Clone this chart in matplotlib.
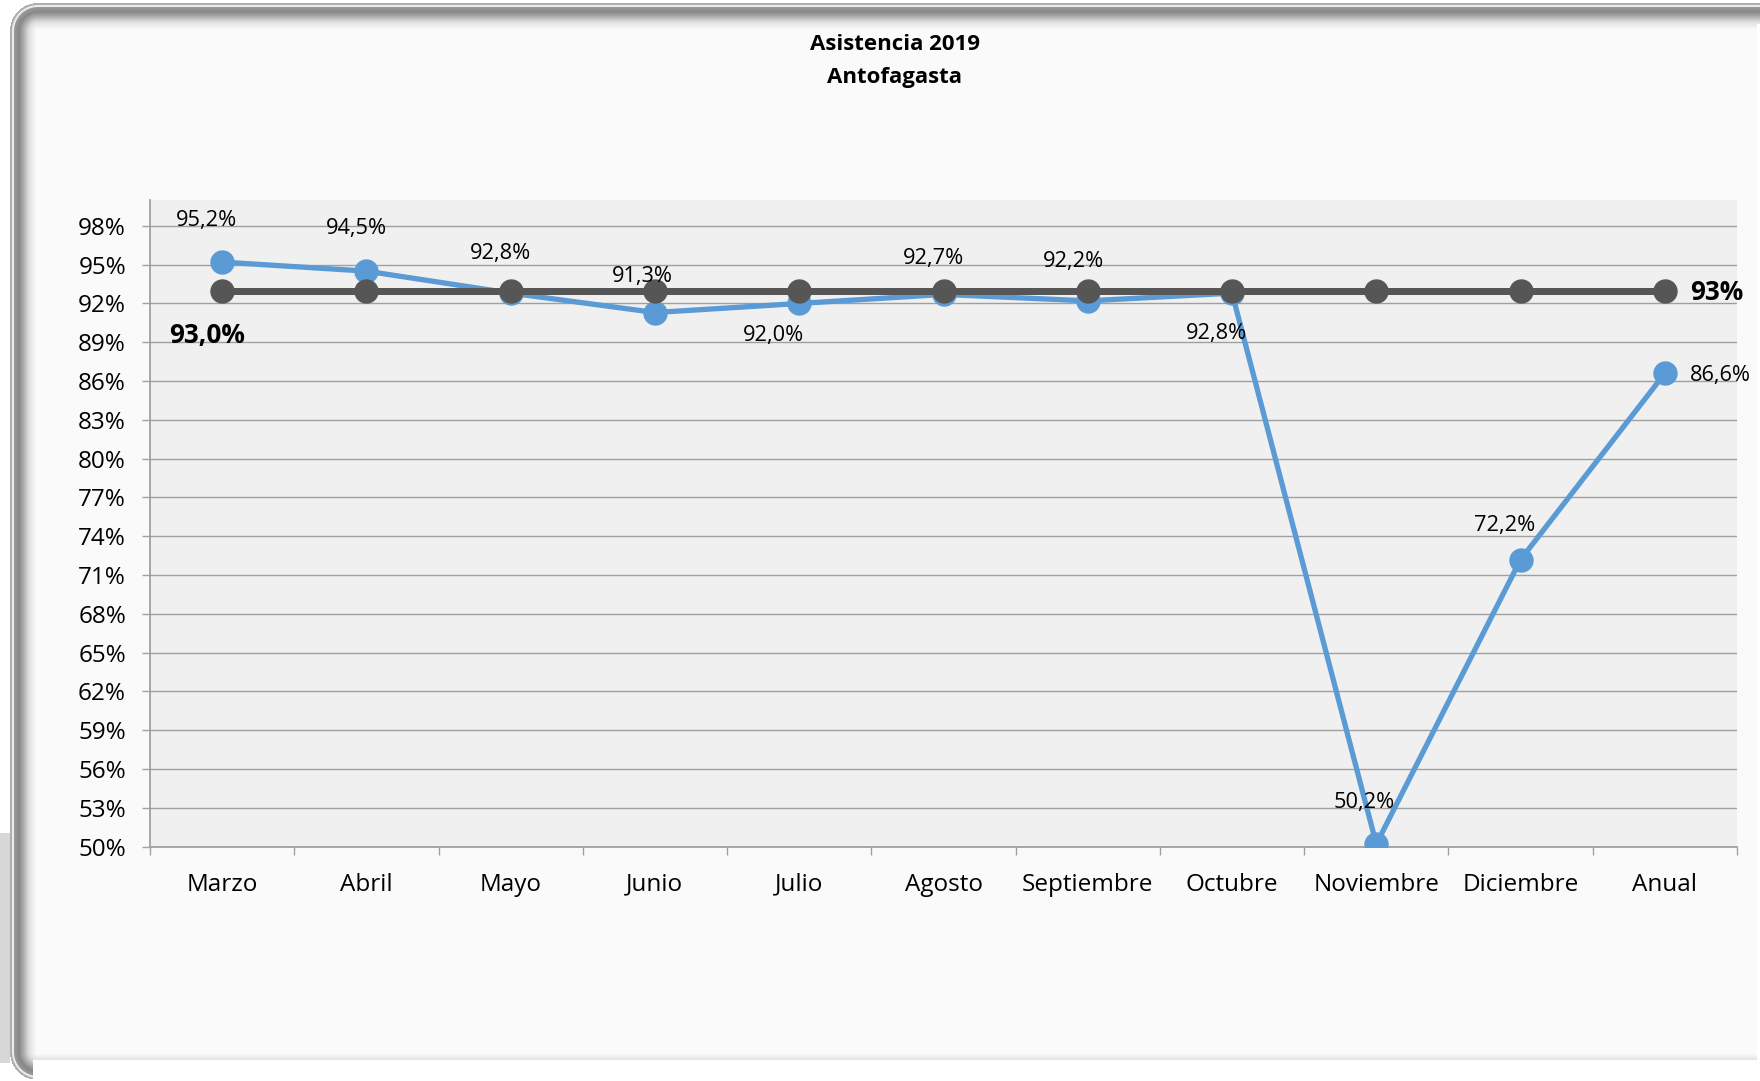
import numpy as np
import matplotlib
matplotlib.use('Agg')
import matplotlib.pyplot as plt

plt.rcParams['font.family'] = ['Open Sans', 'DejaVu Sans']

# datos
meses = ['Marzo', 'Abril', 'Mayo', 'Junio', 'Julio', 'Agosto', 'Septiembre',
         'Octubre', 'Noviembre', 'Diciembre', 'Anual']
asistencia = [95.2, 94.5, 92.8, 91.3, 92.0, 92.7, 92.2, 92.8, 50.2, 72.2, 86.6]
meta = [93.0, 93.0, 93.0, 93.0, 93.0, 93.0, 93.0, 93.0, 93.0, 93.0, 93.0]
y_ticks = [50, 53, 56, 59, 62, 65, 68, 71, 74, 77, 80, 83, 86, 89, 92, 95, 98]

# offsets of the data labels, in pixels (dx, dy down)
off_asis = [(-16, -44), (-10, -45), (-10, -42), (-13, -39), (-26, 30), (-10, -38),
            (-14, -42), (-16, 38), (-12, -44), (-16, -37), (56, 0)]
off_meta = {0: (-15, 43), 10: (52, 0)}

W, H = 1760, 1081
DPI = 100
PX = 72.0 / DPI   # px -> points

fig = plt.figure(figsize=(W / DPI, H / DPI), dpi=DPI, facecolor='white')

# ---------- background frame (rounded bevel box) ----------
ax_bg = fig.add_axes([0, 0, 1, 1], zorder=0)
ax_bg.set_axis_off()
xs = np.arange(W) + 0.5
ys = np.arange(H) + 0.5
X, Y = np.meshgrid(xs, ys)
x0, x1, y0, y1, r = 10, 1830, 3, 1080, 28
cx, cy = (x0 + x1) / 2, (y0 + y1) / 2
bx, by = (x1 - x0) / 2, (y1 - y0) / 2
qx = np.abs(X - cx) - (bx - r)
qy = np.abs(Y - cy) - (by - r)
sdf = np.hypot(np.maximum(qx, 0), np.maximum(qy, 0)) + np.minimum(np.maximum(qx, qy), 0) - r
d = -sdf
prof_d = [0, 1.5, 2.5, 3.5, 4.5, 9, 13, 19, 26]
prof_v = [0.68, 0.68, 0.92, 0.92, 0.60, 0.53, 0.66, 0.87, 0.98]
bg = np.interp(d, prof_d, prof_v)
bg[d < 0] = 1.0
bg[(X < 10) & (Y > 833) & (Y < 1063)] = 0.84
bg[(X > 33) & (Y > 1060)] = 1.0
bg[(X > 1757) & (Y > 24)] = 1.0
ax_bg.imshow(bg, cmap='gray', vmin=0, vmax=1, extent=(0, W, H, 0),
             interpolation='nearest', aspect='auto')
ax_bg.set_xlim(0, W)
ax_bg.set_ylim(H, 0)

# ---------- main chart ----------
left, right, top, bottom = 150, 1737, 200, 846.7
ax = fig.add_axes([left / W, 1 - bottom / H, (right - left) / W, (bottom - top) / H], zorder=1)
ax.set_facecolor('#f0f0f0')

x = np.arange(len(meses))
ax.plot(x, asistencia, color='#5b9bd5', lw=5.3 * PX, marker='o', ms=23 * PX,
        zorder=3, solid_capstyle='round')
ax.plot(x, meta, color='#565656', lw=7 * PX, marker='o', ms=23 * PX, zorder=4)

ax.set_xlim(-0.5, len(meses) - 0.5)
ax.set_ylim(50, 100)
ax.set_yticks(y_ticks)
ax.set_yticklabels([f'{t}%' for t in y_ticks])
ax.set_xticks(x)
ax.set_xticklabels(meses)
ax.set_xticks(np.arange(-0.5, len(meses), 1), minor=True)

ax.grid(axis='y', color='#9f9f9f', lw=1.0, zorder=1)
ax.set_axisbelow(True)
for s in ['top', 'right']:
    ax.spines[s].set_visible(False)
for s in ['left', 'bottom']:
    ax.spines[s].set_color('#a0a0a0')
    ax.spines[s].set_linewidth(1.3)

ax.tick_params(axis='y', length=8 * PX, color='#a0a0a0', width=1.0,
               pad=16 * PX, labelsize=17.5, labelcolor='#000000')
ax.tick_params(axis='x', which='major', length=0, pad=26 * PX, labelsize=17.5)
ax.tick_params(axis='x', which='minor', length=8 * PX, color='#a0a0a0', width=1.0)

# data labels
for i, v in enumerate(asistencia):
    dx, dy = off_asis[i]
    ax.annotate(f'{v:.1f}'.replace('.', ',') + '%', (x[i], v),
                xytext=(dx * PX, -(dy + 8) * PX), textcoords='offset points',
                ha='center', va='baseline', fontsize=15.7, color='#000000',
                annotation_clip=False, zorder=6)

for i, (dx, dy) in off_meta.items():
    if i == 0:
        txt = f'{meta[i]:.1f}'.replace('.', ',') + '%'
    else:
        txt = f'{meta[i]:.0f}%'
    ax.annotate(txt, (x[i], meta[i]), xytext=(dx * PX, -(dy + 9.5) * PX),
                textcoords='offset points', ha='center', va='baseline',
                fontsize=18.8, fontweight='bold', color='#000000',
                annotation_clip=False, zorder=6)

# title
fig.text(894.6 / W, 1 - 50 / H, 'Asistencia 2019', ha='center', va='baseline',
         fontsize=16, fontweight='bold')
fig.text(894.6 / W, 1 - 83.3 / H, 'Antofagasta', ha='center', va='baseline',
         fontsize=16, fontweight='bold')

fig.savefig('out.png', dpi=DPI)
